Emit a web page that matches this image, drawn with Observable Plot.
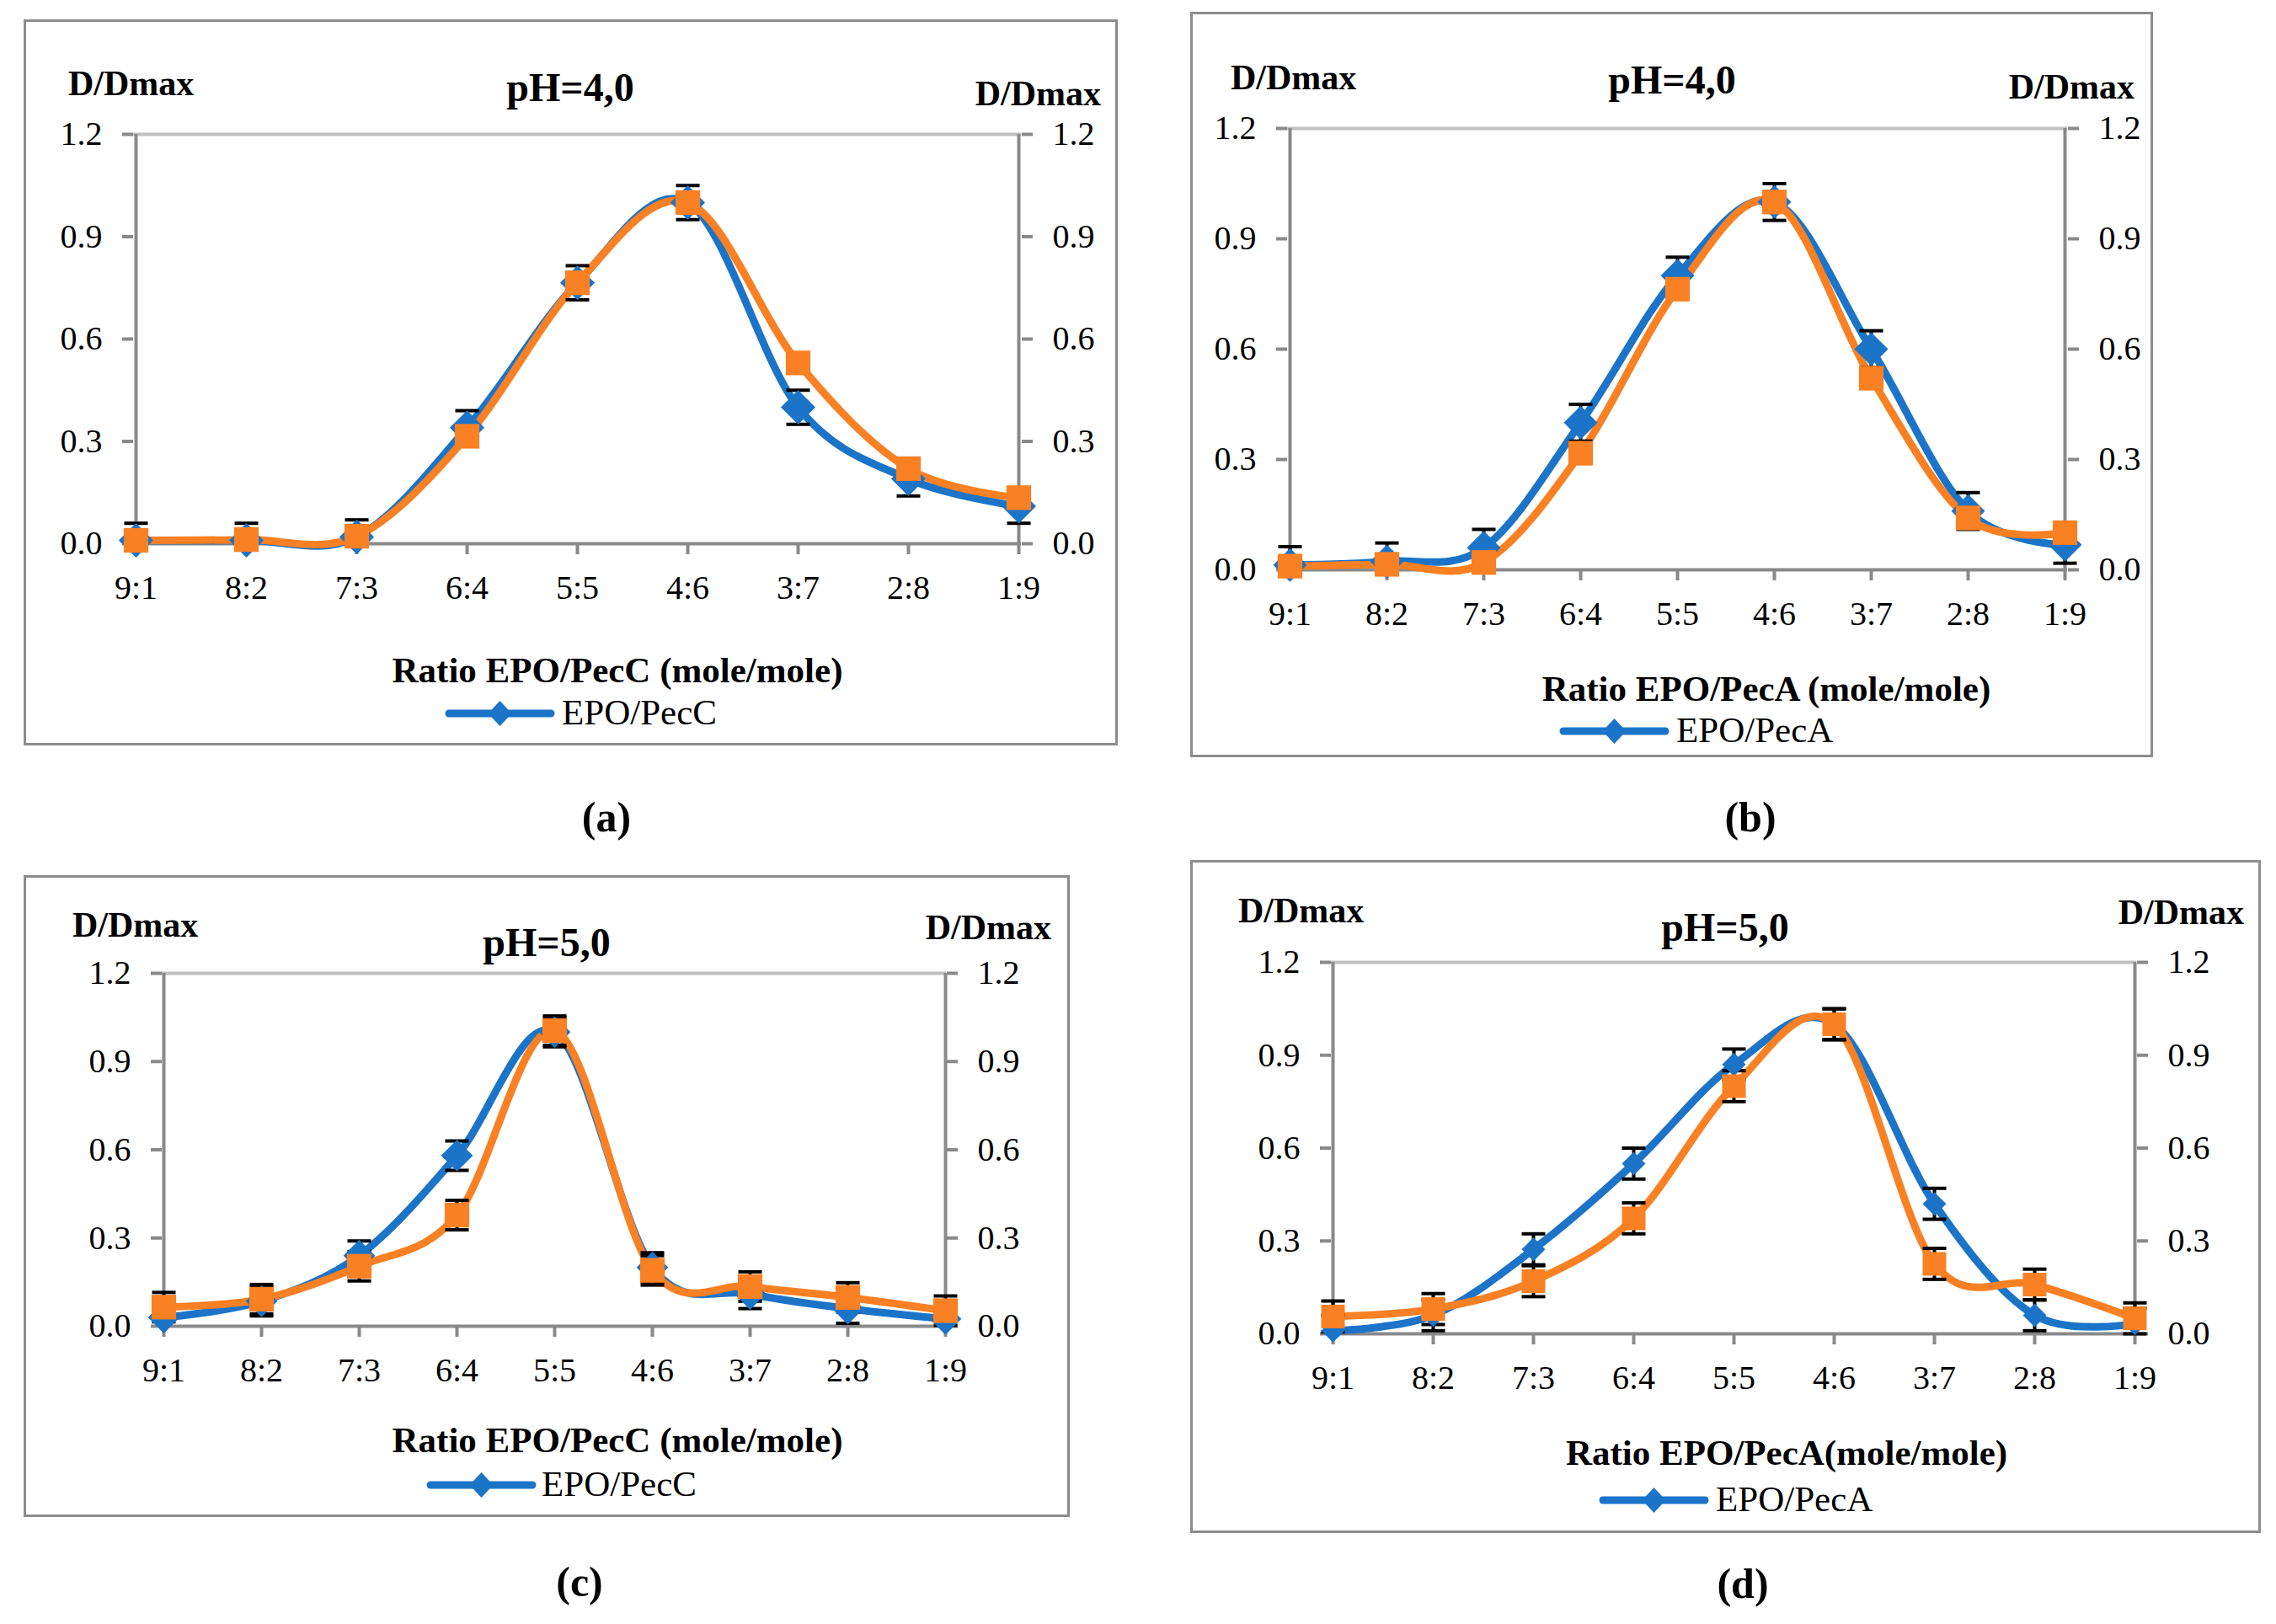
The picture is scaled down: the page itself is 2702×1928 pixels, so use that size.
<!DOCTYPE html>
<html>
<head>
<meta charset="utf-8">
<script src="https://cdn.jsdelivr.net/npm/d3@7"></script>
<script src="https://cdn.jsdelivr.net/npm/@observablehq/plot@0.6"></script>
<style>
  html, body { margin: 0; padding: 0; background: #fff; }
  #page { position: relative; width: 2702px; height: 1928px; background: #fff; overflow: hidden; }
  .box { position: absolute; box-sizing: border-box; border: 3px solid #8c8c8c; }
  .chart { position: absolute; }
  #overlay { position: absolute; left: 0; top: 0; pointer-events: none; }
</style>
</head>
<body>
<div id="page"></div>
<script>
// ---------------- DATA ----------------
const categories = ["9:1", "8:2", "7:3", "6:4", "5:5", "4:6", "3:7", "2:8", "1:9"];
const yTicks = [0, 0.3, 0.6, 0.9, 1.2];

// (a) pH=4,0  EPO/PecC
const a_blue      = [0.01, 0.01, 0.02, 0.34, 0.765, 1.00, 0.40, 0.19, 0.11];
const a_orange    = [0.01, 0.012, 0.022, 0.315, 0.765, 1.00, 0.53, 0.22, 0.135];
const a_blueErr   = [0.05, 0.05, 0.05, 0.05, 0.05, 0.05, 0.05, 0.05, 0.05];
const a_orangeErr = [0, 0, 0, 0, 0, 0, 0, 0, 0];

// (b) pH=4,0  EPO/PecA
const b_blue      = [0.013, 0.023, 0.06, 0.40, 0.80, 1.00, 0.60, 0.16, 0.068];
const b_orange    = [0.01, 0.015, 0.02, 0.317, 0.763, 1.00, 0.521, 0.141, 0.101];
const b_blueErr   = [0.05, 0.05, 0.05, 0.05, 0.05, 0.05, 0.05, 0.05, 0.05];
const b_orangeErr = [0, 0, 0, 0, 0, 0, 0, 0, 0];

// (c) pH=5,0  EPO/PecC
const c_blue      = [0.03, 0.085, 0.24, 0.58, 1.00, 0.20, 0.11, 0.06, 0.025];
const c_orange    = [0.065, 0.092, 0.204, 0.378, 1.005, 0.19, 0.135, 0.098, 0.053];
const c_blueErr   = [0.05, 0.05, 0.05, 0.05, 0.05, 0.05, 0.05, 0.05, 0.05];
const c_orangeErr = [0.05, 0.05, 0.05, 0.05, 0.05, 0.05, 0.05, 0.05, 0.05];

// (d) pH=5,0  EPO/PecA
const d_blue      = [0.01, 0.06, 0.273, 0.55, 0.87, 1.00, 0.42, 0.06, 0.033];
const d_orange    = [0.056, 0.08, 0.17, 0.373, 0.80, 1.00, 0.226, 0.159, 0.05];
const d_blueErr   = [0.05, 0.05, 0.05, 0.05, 0.05, 0.05, 0.05, 0.05, 0.05];
const d_orangeErr = [0.05, 0.05, 0.05, 0.05, 0.05, 0.05, 0.05, 0.05, 0.05];

// ---------------- TEXTS ----------------
const yLabel = "D/Dmax";
const panelTitles = ["pH=4,0", "pH=4,0", "pH=5,0", "pH=5,0"];
const xTitles = ["Ratio EPO/PecC (mole/mole)", "Ratio EPO/PecA (mole/mole)", "Ratio EPO/PecC (mole/mole)", "Ratio EPO/PecA(mole/mole)"];
const legendNames = ["EPO/PecC", "EPO/PecA", "EPO/PecC", "EPO/PecA"];
const panelLabels = ["(a)", "(b)", "(c)", "(d)"];

const seriesData = [
  {blue: a_blue, orange: a_orange, blueErr: a_blueErr, orangeErr: a_orangeErr},
  {blue: b_blue, orange: b_orange, blueErr: b_blueErr, orangeErr: b_orangeErr},
  {blue: c_blue, orange: c_orange, blueErr: c_blueErr, orangeErr: c_orangeErr},
  {blue: d_blue, orange: d_orange, blueErr: d_blueErr, orangeErr: d_orangeErr}
];

// ---------------- LAYOUT / STYLE ----------------
const BLUE = "#1b74c8", ORANGE = "#fa8024", AXIS = "#898989", TOPLINE = "#c0c0c0";
const FONT = "'Liberation Serif', 'Times New Roman', serif";
const layout = [
  {box: [28, 23, 1327, 885],   plot: [158, 159, 1212, 645],   yl: [81, 113],    title: [677, 120],   yr: [1307, 125],
   xt: [733, 810],  leg: [528, 659, 847],   legText: [667, 860],   lab: [720, 987],   dr: 18.5, sq: 16.5},
  {box: [1413, 14, 2556, 899], plot: [1528, 152, 2454, 676],  yl: [1461, 106],  title: [1985, 111],  yr: [2534, 117],
   xt: [2097, 832], leg: [1851, 1982, 868], legText: [1990, 881],  lab: [2078, 987],  dr: 18, sq: 16.5},
  {box: [28, 1039, 1270, 1801], plot: [192, 1155, 1123, 1574], yl: [86, 1112],   title: [649, 1135],  yr: [1248, 1115],
   xt: [733, 1724], leg: [506, 637, 1763],  legText: [643, 1776],  lab: [688, 1895],  dr: 17, sq: 16.5},
  {box: [1413, 1021, 2684, 1820], plot: [1580, 1142, 2536, 1583], yl: [1470, 1095], title: [2048, 1117], yr: [2664, 1097],
   xt: [2121, 1739], leg: [1898, 2029, 1781], legText: [2037, 1794], lab: [2069, 1897], dr: 12.6, sq: 15.8}
];

const capSymbol = {
  draw(ctx, size) {
    const w = Math.sqrt(size) / 2;
    ctx.moveTo(-w, 0);
    ctx.lineTo(w, 0);
  }
};

const page = document.getElementById("page");

function rowsOf(vals, errs) {
  return categories.map((c, i) => ({cat: c, v: vals[i], e: errs[i]}));
}

layout.forEach((L, k) => {
  const S = seriesData[k];
  const bw = 3;
  const box = document.createElement("div");
  box.className = "box";
  box.style.left = L.box[0] + "px";
  box.style.top = L.box[1] + "px";
  box.style.width = (L.box[2] - L.box[0]) + "px";
  box.style.height = (L.box[3] - L.box[1]) + "px";
  page.appendChild(box);

  const ox = L.box[0] + bw, oy = L.box[1] + bw;
  const W = L.box[2] - L.box[0] - 2 * bw, H = L.box[3] - L.box[1] - 2 * bw;

  const blue = rowsOf(S.blue, S.blueErr);
  const orange = rowsOf(S.orange, S.orangeErr);
  const errs = blue.concat(orange).filter(d => d.e > 0);
  const lowCaps = errs.filter(d => d.v - d.e >= 0);

  const chart = Plot.plot({
    width: W,
    height: H,
    marginLeft: L.plot[0] - ox,
    marginTop: L.plot[1] - oy,
    marginRight: ox + W - L.plot[2],
    marginBottom: oy + H - L.plot[3],
    style: {fontFamily: FONT, fontSize: "40px", background: "transparent", overflow: "visible", color: "black"},
    x: {type: "point", domain: categories, padding: 0, label: null},
    y: {domain: [0, 1.2], label: null},
    marks: [
      Plot.ruleY([1.2], {stroke: TOPLINE, strokeWidth: 4}),
      Plot.ruleY([0], {stroke: AXIS, strokeWidth: 4}),
      Plot.ruleX([categories[0], categories[categories.length - 1]], {stroke: AXIS, strokeWidth: 4}),
      Plot.axisY({anchor: "left", ticks: yTicks, tickFormat: d3.format(".1f"), tickSize: 13, tickPadding: 24,
                  stroke: AXIS, strokeWidth: 4, fill: "black", label: null}),
      Plot.axisY({anchor: "right", ticks: yTicks, tickFormat: d3.format(".1f"), tickSize: 13, tickPadding: 24,
                  stroke: AXIS, strokeWidth: 4, fill: "black", label: null}),
      Plot.axisX({anchor: "bottom", tickSize: 13, tickPadding: 24, stroke: AXIS, strokeWidth: 4, fill: "black", label: null}),
      Plot.line(blue, {x: "cat", y: "v", stroke: BLUE, strokeWidth: 9, curve: "cardinal", tension: 0}),
      Plot.line(orange, {x: "cat", y: "v", stroke: ORANGE, strokeWidth: 9, curve: "cardinal", tension: 0}),
      Plot.ruleX(errs, {x: "cat", y1: d => Math.max(0, d.v - d.e), y2: d => d.v + d.e, stroke: "black", strokeWidth: 4}),
      Plot.dot(errs, {x: "cat", y: d => d.v + d.e, symbol: capSymbol, r: 15.8, stroke: "black", strokeWidth: 4, fill: "none"}),
      Plot.dot(lowCaps, {x: "cat", y: d => d.v - d.e, symbol: capSymbol, r: 15.8, stroke: "black", strokeWidth: 4, fill: "none"}),
      Plot.dot(blue, {x: "cat", y: "v", symbol: "diamond2", r: L.dr, fill: BLUE, stroke: "none"}),
      Plot.dot(orange, {x: "cat", y: "v", symbol: "square", r: L.sq, fill: ORANGE, stroke: "none"})
    ]
  });
  chart.classList.add("chart");
  chart.style.left = ox + "px";
  chart.style.top = oy + "px";
  page.appendChild(chart);
});

// ---------------- TEXT OVERLAY ----------------
const ov = d3.select(page).append("svg")
  .attr("id", "overlay")
  .attr("width", 2702)
  .attr("height", 1928)
  .style("font-family", FONT);

layout.forEach((L, k) => {
  ov.append("text").attr("x", L.yl[0]).attr("y", L.yl[1]).attr("font-size", 42).attr("font-weight", "bold")
    .attr("text-anchor", "start").text(yLabel);
  ov.append("text").attr("x", L.yr[0]).attr("y", L.yr[1]).attr("font-size", 42).attr("font-weight", "bold")
    .attr("text-anchor", "end").text(yLabel);
  ov.append("text").attr("x", L.title[0]).attr("y", L.title[1]).attr("font-size", 48).attr("font-weight", "bold")
    .attr("text-anchor", "middle").text(panelTitles[k]);
  ov.append("text").attr("x", L.xt[0]).attr("y", L.xt[1]).attr("font-size", 43).attr("font-weight", "bold")
    .attr("text-anchor", "middle").text(xTitles[k]);
  // legend
  const [x1, x2, ly] = L.leg;
  ov.append("line").attr("x1", x1 + 5).attr("x2", x2 - 5).attr("y1", ly).attr("y2", ly)
    .attr("stroke", BLUE).attr("stroke-width", 9).attr("stroke-linecap", "round");
  const cx = (x1 + x2) / 2;
  ov.append("path").attr("d", `M${cx},${ly - 15}L${cx + 14},${ly}L${cx},${ly + 15}L${cx - 14},${ly}Z`).attr("fill", BLUE);
  ov.append("text").attr("x", L.legText[0]).attr("y", L.legText[1]).attr("font-size", 43)
    .attr("text-anchor", "start").text(legendNames[k]);
  ov.append("text").attr("x", L.lab[0]).attr("y", L.lab[1]).attr("font-size", 50).attr("font-weight", "bold")
    .attr("text-anchor", "middle").text(panelLabels[k]);
});
</script>
</body>
</html>
